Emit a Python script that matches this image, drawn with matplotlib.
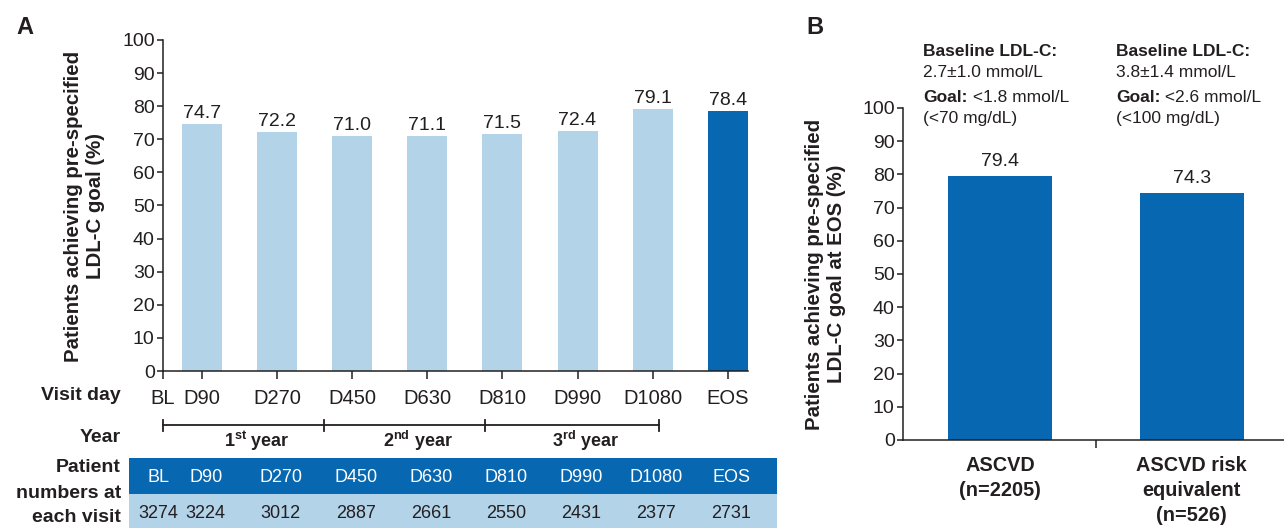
import matplotlib
matplotlib.use('Agg')
import matplotlib.pyplot as plt
from matplotlib.transforms import blended_transform_factory
from matplotlib.patches import Rectangle
from matplotlib.lines import Line2D

plt.rcParams['font.family'] = ['Liberation Sans', 'DejaVu Sans']
plt.rcParams['mathtext.fontset'] = 'custom'
plt.rcParams['mathtext.rm'] = 'Liberation Sans'
plt.rcParams['mathtext.bf'] = 'Liberation Sans:bold'

# panel A data
visits = ['D90', 'D270', 'D450', 'D630', 'D810', 'D990', 'D1080', 'EOS']
pct_goal = [74.7, 72.2, 71.0, 71.1, 71.5, 72.4, 79.1, 78.4]
table_visits = ['BL'] + visits
patients = [3274, 3224, 3012, 2887, 2661, 2550, 2431, 2377, 2731]
year_sup = ['st', 'nd', 'rd']

# panel B data
groups = ['ASCVD\n(n=2205)', 'ASCVD risk\nequivalent\n(n=526)']
pct_eos = [79.4, 74.3]
baseline = ['2.7±1.0 mmol/L', '3.8±1.4 mmol/L']
goal = ['<1.8 mmol/L', '<2.6 mmol/L']
goal_mg = ['(<70 mg/dL)', '(<100 mg/dL)']

DARK = '#0767b0'
LIGHT = '#b3d3e9'
INK = '#231f20'

W, H = 1284, 528
fig = plt.figure(figsize=(W / 100, H / 100), dpi=100)

def fx(px):
    return px / W

def fy(py):
    return 1 - py / H

def style_axis(ax, size):
    for s in ['top', 'right']:
        ax.spines[s].set_visible(False)
    for s in ['left', 'bottom']:
        ax.spines[s].set_linewidth(1.1)
        ax.spines[s].set_color(INK)
    ax.set_ylim(0, 100)
    ax.set_yticks(range(0, 101, 10))
    ax.tick_params(axis='y', direction='out', length=4, width=1.1, labelsize=size, colors=INK, pad=2)


# ---------------- panel A ----------------
axA = fig.add_axes([fx(163), fy(371), fx(748 - 163), (371 - 40) / H])
xA = list(range(1, len(visits) + 1))
colorsA = [LIGHT] * (len(visits) - 1) + [DARK]
axA.bar(xA, pct_goal, width=0.533, color=colorsA)
axA.set_xlim(0.48, 8.27)
style_axis(axA, 14)
axA.set_xticks([0.48] + xA, labels=table_visits)
axA.tick_params(axis='x', direction='out', length=6, width=1.1, labelsize=14.5, colors=INK, pad=7)
for xi, v in zip(xA, pct_goal):
    axA.annotate(f'{v:.1f}', (xi, v), xytext=(0, 1.5), textcoords='offset points',
                 ha='center', va='bottom', fontsize=14, color=INK)

fig.text(fx(85), fy(206), 'Patients achieving pre-specified\nLDL-C goal (%)', rotation=90,
         ha='center', va='center', fontsize=14.7, weight='bold', color=INK, linespacing=1.2)
fig.text(fx(25), fy(27), 'A', ha='center', va='center', fontsize=17, weight='bold', color=INK)

# row labels below panel A
for txt, ypx in [('Visit day', 396), ('Year', 437), ('Patient', 468),
                 ('numbers at', 493), ('each visit', 517)]:
    fig.text(fx(121), fy(ypx), txt, ha='right', va='center', fontsize=14, weight='bold', color=INK)

# year bracket
trA = blended_transform_factory(axA.transData, fig.transFigure)
bounds = [0.48, 2.63, 4.77, 7.09]
fig.add_artist(Line2D([bounds[0], bounds[-1]], [fy(425)] * 2, transform=trA, color=INK, lw=1.3))
for b in bounds:
    fig.add_artist(Line2D([b, b], [fy(420), fy(431)], transform=trA, color=INK, lw=1.3))
for i, sup in enumerate(year_sup):
    mid = (bounds[i] + bounds[i + 1]) / 2 + 0.17
    fig.text(mid, fy(441), f'{i + 1}$^{{\\mathbf{{{sup}}}}}$ year', transform=trA,
             ha='center', va='center', fontsize=13, weight='bold', color=INK)

# patient numbers table
fig.add_artist(Rectangle((fx(129), fy(494)), fx(777 - 129), (494 - 458) / H,
                         transform=fig.transFigure, color=DARK, lw=0))
fig.add_artist(Rectangle((fx(129), 0), fx(777 - 129), fy(494),
                         transform=fig.transFigure, color=LIGHT, lw=0))
col_x = [0.42] + [xi + 0.05 for xi in xA]
for cx, lab, n in zip(col_x, table_visits, patients):
    fig.text(cx, fy(477), lab, transform=trA, ha='center', va='center', fontsize=13, color='white')
    fig.text(cx, fy(514), str(n), transform=trA, ha='center', va='center', fontsize=13, color=INK)


# ---------------- panel B ----------------
axB = fig.add_axes([fx(903), fy(440), 1 - fx(903), (440 - 108) / H])
xB = list(range(len(groups)))
axB.bar(xB, pct_eos, width=0.54, color=DARK)
axB.set_xlim(-0.505, 1.48)
style_axis(axB, 14)
axB.set_xticks([0.5], labels=[''])
axB.tick_params(axis='x', which='major', direction='out', length=6, width=1.1, colors=INK)
for xi, v in zip(xB, pct_eos):
    axB.annotate(f'{v:.1f}', (xi, v), xytext=(0, 4.5), textcoords='offset points',
                 ha='center', va='bottom', fontsize=14, color=INK)

trB = blended_transform_factory(axB.transData, fig.transFigure)
for xi, grp in zip(xB, groups):
    axB.text(xi, fy(456), grp, transform=trB, ha='center', va='top', fontsize=14.3,
             weight='bold', color=INK, linespacing=1.4, clip_on=False)

for xi, bl, g, gm in zip([-0.40, 0.605], baseline, goal, goal_mg):
    fig.text(xi, fy(52), 'Baseline LDL-C:', transform=trB, ha='left', va='center',
             fontsize=12.5, weight='bold', color=INK)
    fig.text(xi, fy(73), bl, transform=trB, ha='left', va='center', fontsize=12.5, color=INK)
    t = fig.text(xi, fy(98), 'Goal:', transform=trB, ha='left', va='center',
                 fontsize=12.5, weight='bold', color=INK)
    axB.annotate(' ' + g, xy=(1, 0.5), xycoords=t, ha='left', va='center',
                 fontsize=12.5, color=INK, annotation_clip=False)
    fig.text(xi, fy(118), gm, transform=trB, ha='left', va='center', fontsize=12.5, color=INK)

fig.text(fx(825), fy(274), 'Patients achieving pre-specified\nLDL-C goal at EOS (%)', rotation=90,
         ha='center', va='center', fontsize=14.7, weight='bold', color=INK, linespacing=1.2)
fig.text(fx(815), fy(27), 'B', ha='center', va='center', fontsize=17, weight='bold', color=INK)

fig.savefig('out.png', dpi=100)
